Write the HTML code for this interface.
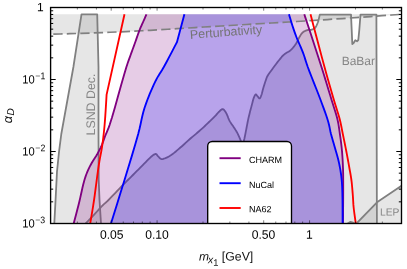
<!DOCTYPE html>
<html><head><meta charset="utf-8">
<style>
html,body{margin:0;padding:0;background:#fff;}
body{width:407px;height:269px;overflow:hidden;font-family:"Liberation Sans",sans-serif;}
svg{display:block;will-change:transform;}
text{font-family:"Liberation Sans",sans-serif;text-rendering:geometricPrecision;}
</style></head><body>
<svg width="407" height="269" viewBox="0 0 407 269">
<defs><clipPath id="cp"><rect x="50.5" y="7.5" width="351" height="216"/></clipPath></defs>
<rect width="407" height="269" fill="#fff"/>
<g clip-path="url(#cp)" stroke-linejoin="round" stroke-linecap="butt" fill="none">
<path d="M50.50,14.30 L401.50,14.30 L401.50,14.30 L398.84,14.49 L391.83,15.00 L381.97,15.72 L370.72,16.53 L359.57,17.33 L350.00,18.00 L342.35,18.53 L334.86,19.04 L327.46,19.54 L320.06,20.03 L312.60,20.51 L305.00,21.00 L296.83,21.51 L288.55,22.01 L280.20,22.51 L271.80,23.01 L263.39,23.50 L255.00,24.00 L246.55,24.50 L238.09,24.99 L229.62,25.49 L221.13,25.99 L212.59,26.49 L204.00,27.00 L195.05,27.55 L186.00,28.12 L176.90,28.69 L167.82,29.26 L158.83,29.80 L150.00,30.30 L141.86,30.74 L133.86,31.15 L125.93,31.54 L118.02,31.91 L110.07,32.26 L102.00,32.60 L92.33,32.96 L81.15,33.34 L69.93,33.71 L60.11,34.01 L53.14,34.22 L50.50,34.30 Z" fill="rgb(128,128,128)" fill-opacity="0.2" stroke="none"/>
<path d="M54.30,223.50 L55.50,201.00 L57.00,171.50 L59.00,152.00 L61.30,134.00 L73.40,67.00 L81.50,14.30 L97.20,14.30 L98.50,67.00 L98.50,134.00 L98.70,180.00 L99.50,200.00 L101.00,223.50 Z" fill="rgb(128,128,128)" fill-opacity="0.2" stroke="none"/>
<path d="M54.30,223.50 L55.50,201.00 L57.00,171.50 L59.00,152.00 L61.30,134.00 L73.40,67.00 L81.50,14.30 L97.20,14.30 L98.50,67.00 L98.50,134.00 L98.70,180.00 L99.50,200.00 L101.00,223.50" stroke="#808080" stroke-width="1.8" />
<path d="M85.50,223.50 L85.96,223.03 L87.18,221.81 L88.89,220.07 L90.84,218.09 L92.76,216.12 L94.40,214.40 L95.72,212.97 L97.01,211.51 L98.28,210.06 L99.54,208.64 L100.77,207.28 L102.00,206.00 L103.00,205.03 L103.95,204.17 L104.88,203.34 L105.85,202.50 L106.87,201.57 L108.00,200.50 L110.07,198.42 L112.43,195.98 L114.94,193.32 L117.49,190.62 L119.95,188.03 L122.20,185.70 L123.78,184.09 L125.27,182.60 L126.71,181.17 L128.13,179.75 L129.58,178.32 L131.10,176.80 L132.91,174.99 L134.79,173.11 L136.70,171.20 L138.61,169.29 L140.49,167.41 L142.30,165.60 L143.90,163.98 L145.52,162.32 L147.11,160.68 L148.62,159.15 L150.00,157.80 L151.20,156.70 L151.75,156.23 L152.24,155.81 L152.70,155.44 L153.13,155.12 L153.56,154.84 L154.00,154.60 L154.34,154.42 L154.69,154.25 L155.03,154.11 L155.36,154.00 L155.69,153.96 L156.00,154.00 L156.35,154.18 L156.68,154.49 L156.99,154.89 L157.30,155.34 L157.64,155.79 L158.00,156.20 L158.48,156.70 L158.98,157.25 L159.51,157.81 L160.06,158.32 L160.62,158.74 L161.20,159.00 L161.71,159.10 L162.23,159.09 L162.77,159.02 L163.32,158.88 L163.89,158.70 L164.50,158.50 L165.49,158.13 L166.56,157.66 L167.69,157.09 L168.85,156.45 L170.03,155.74 L171.20,155.00 L172.63,154.00 L174.08,152.89 L175.55,151.69 L177.05,150.42 L178.56,149.12 L180.10,147.80 L181.95,146.20 L183.89,144.47 L185.86,142.68 L187.80,140.93 L189.63,139.27 L191.30,137.80 L192.35,136.90 L193.31,136.09 L194.23,135.33 L195.13,134.58 L196.04,133.82 L197.00,133.00 L198.14,132.01 L199.33,130.97 L200.54,129.91 L201.74,128.85 L202.90,127.80 L204.00,126.80 L204.88,125.98 L205.72,125.18 L206.53,124.40 L207.34,123.62 L208.15,122.82 L209.00,122.00 L209.98,121.06 L211.00,120.10 L212.03,119.11 L213.06,118.13 L214.05,117.15 L215.00,116.20 L215.80,115.34 L216.57,114.46 L217.32,113.59 L218.05,112.75 L218.77,111.98 L219.50,111.30 L220.06,110.79 L220.62,110.27 L221.18,109.79 L221.73,109.39 L222.27,109.15 L222.80,109.10 L223.38,109.33 L223.95,109.80 L224.51,110.46 L225.06,111.25 L225.59,112.08 L226.10,112.90 L226.71,114.02 L227.27,115.29 L227.79,116.65 L228.32,118.05 L228.88,119.42 L229.50,120.70 L230.18,121.87 L230.91,123.02 L231.67,124.14 L232.44,125.24 L233.19,126.33 L233.90,127.40 L234.50,128.33 L235.09,129.23 L235.66,130.12 L236.22,131.01 L236.76,131.93 L237.30,132.90 L237.90,134.07 L238.48,135.31 L239.06,136.59 L239.61,137.87 L240.13,139.12 L240.60,140.30 L240.95,141.33 L241.27,142.48 L241.56,143.60 L241.84,144.57 L242.12,145.25 L242.40,145.50 L242.68,145.25 L242.95,144.60 L243.21,143.67 L243.48,142.56 L243.74,141.40 L244.00,140.30 L244.37,138.75 L244.74,137.03 L245.11,135.21 L245.47,133.33 L245.84,131.44 L246.20,129.60 L246.56,127.76 L246.91,125.92 L247.25,124.07 L247.60,122.21 L247.98,120.32 L248.40,118.40 L248.91,116.20 L249.48,113.91 L250.07,111.59 L250.67,109.31 L251.26,107.12 L251.80,105.10 L252.18,103.63 L252.53,102.19 L252.88,100.82 L253.23,99.52 L253.60,98.34 L254.00,97.30 L254.28,96.66 L254.57,96.01 L254.87,95.40 L255.18,94.90 L255.49,94.55 L255.80,94.40 L256.06,94.47 L256.32,94.68 L256.58,95.00 L256.84,95.38 L257.12,95.76 L257.40,96.10 L257.75,96.52 L258.13,97.03 L258.51,97.55 L258.89,98.00 L259.26,98.31 L259.60,98.40 L259.94,98.20 L260.27,97.76 L260.57,97.15 L260.86,96.44 L261.14,95.70 L261.40,95.00 L261.69,94.18 L261.94,93.31 L262.17,92.39 L262.40,91.45 L262.63,90.48 L262.90,89.50 L263.25,88.30 L263.61,87.05 L264.00,85.76 L264.39,84.47 L264.80,83.21 L265.20,82.00 L265.55,80.95 L265.89,79.93 L266.24,78.93 L266.61,77.95 L267.02,76.97 L267.50,76.00 L268.09,74.98 L268.74,73.99 L269.44,73.01 L270.18,72.03 L270.94,71.03 L271.70,70.00 L272.57,68.78 L273.47,67.52 L274.39,66.24 L275.34,64.96 L276.31,63.67 L277.30,62.40 L278.36,61.06 L279.43,59.68 L280.54,58.31 L281.67,56.98 L282.82,55.73 L284.00,54.60 L285.09,53.74 L286.23,53.00 L287.39,52.33 L288.54,51.66 L289.65,50.94 L290.70,50.10 L291.72,49.11 L292.71,48.04 L293.66,46.91 L294.56,45.74 L295.41,44.57 L296.20,43.40 L296.86,42.30 L297.44,41.17 L297.97,40.03 L298.49,38.90 L299.03,37.82 L299.60,36.80 L300.11,35.96 L300.62,35.13 L301.14,34.34 L301.68,33.59 L302.26,32.91 L302.90,32.30 L303.57,31.80 L304.29,31.35 L305.05,30.97 L305.84,30.63 L306.62,30.34 L307.40,30.10 L308.13,29.95 L308.88,29.88 L309.64,29.85 L310.38,29.82 L311.11,29.75 L311.80,29.60 L312.42,29.40 L313.02,29.19 L313.60,28.94 L314.16,28.64 L314.70,28.26 L315.20,27.80 L315.90,26.81 L316.60,25.43 L317.25,23.92 L317.80,22.52 L318.16,21.50 L318.30,21.10 L319.80,14.60 L351.00,14.60 L351.70,30.00 L352.30,44.00 L353.60,43.00 L355.30,40.30 L357.00,41.30 L358.30,40.00 L359.30,30.00 L360.50,14.60 L376.40,14.60 L376.90,223.50 Z" fill="rgb(128,128,128)" fill-opacity="0.2" stroke="none"/>
<path d="M85.50,223.50 L85.96,223.03 L87.18,221.81 L88.89,220.07 L90.84,218.09 L92.76,216.12 L94.40,214.40 L95.72,212.97 L97.01,211.51 L98.28,210.06 L99.54,208.64 L100.77,207.28 L102.00,206.00 L103.00,205.03 L103.95,204.17 L104.88,203.34 L105.85,202.50 L106.87,201.57 L108.00,200.50 L110.07,198.42 L112.43,195.98 L114.94,193.32 L117.49,190.62 L119.95,188.03 L122.20,185.70 L123.78,184.09 L125.27,182.60 L126.71,181.17 L128.13,179.75 L129.58,178.32 L131.10,176.80 L132.91,174.99 L134.79,173.11 L136.70,171.20 L138.61,169.29 L140.49,167.41 L142.30,165.60 L143.90,163.98 L145.52,162.32 L147.11,160.68 L148.62,159.15 L150.00,157.80 L151.20,156.70 L151.75,156.23 L152.24,155.81 L152.70,155.44 L153.13,155.12 L153.56,154.84 L154.00,154.60 L154.34,154.42 L154.69,154.25 L155.03,154.11 L155.36,154.00 L155.69,153.96 L156.00,154.00 L156.35,154.18 L156.68,154.49 L156.99,154.89 L157.30,155.34 L157.64,155.79 L158.00,156.20 L158.48,156.70 L158.98,157.25 L159.51,157.81 L160.06,158.32 L160.62,158.74 L161.20,159.00 L161.71,159.10 L162.23,159.09 L162.77,159.02 L163.32,158.88 L163.89,158.70 L164.50,158.50 L165.49,158.13 L166.56,157.66 L167.69,157.09 L168.85,156.45 L170.03,155.74 L171.20,155.00 L172.63,154.00 L174.08,152.89 L175.55,151.69 L177.05,150.42 L178.56,149.12 L180.10,147.80 L181.95,146.20 L183.89,144.47 L185.86,142.68 L187.80,140.93 L189.63,139.27 L191.30,137.80 L192.35,136.90 L193.31,136.09 L194.23,135.33 L195.13,134.58 L196.04,133.82 L197.00,133.00 L198.14,132.01 L199.33,130.97 L200.54,129.91 L201.74,128.85 L202.90,127.80 L204.00,126.80 L204.88,125.98 L205.72,125.18 L206.53,124.40 L207.34,123.62 L208.15,122.82 L209.00,122.00 L209.98,121.06 L211.00,120.10 L212.03,119.11 L213.06,118.13 L214.05,117.15 L215.00,116.20 L215.80,115.34 L216.57,114.46 L217.32,113.59 L218.05,112.75 L218.77,111.98 L219.50,111.30 L220.06,110.79 L220.62,110.27 L221.18,109.79 L221.73,109.39 L222.27,109.15 L222.80,109.10 L223.38,109.33 L223.95,109.80 L224.51,110.46 L225.06,111.25 L225.59,112.08 L226.10,112.90 L226.71,114.02 L227.27,115.29 L227.79,116.65 L228.32,118.05 L228.88,119.42 L229.50,120.70 L230.18,121.87 L230.91,123.02 L231.67,124.14 L232.44,125.24 L233.19,126.33 L233.90,127.40 L234.50,128.33 L235.09,129.23 L235.66,130.12 L236.22,131.01 L236.76,131.93 L237.30,132.90 L237.90,134.07 L238.48,135.31 L239.06,136.59 L239.61,137.87 L240.13,139.12 L240.60,140.30 L240.95,141.33 L241.27,142.48 L241.56,143.60 L241.84,144.57 L242.12,145.25 L242.40,145.50 L242.68,145.25 L242.95,144.60 L243.21,143.67 L243.48,142.56 L243.74,141.40 L244.00,140.30 L244.37,138.75 L244.74,137.03 L245.11,135.21 L245.47,133.33 L245.84,131.44 L246.20,129.60 L246.56,127.76 L246.91,125.92 L247.25,124.07 L247.60,122.21 L247.98,120.32 L248.40,118.40 L248.91,116.20 L249.48,113.91 L250.07,111.59 L250.67,109.31 L251.26,107.12 L251.80,105.10 L252.18,103.63 L252.53,102.19 L252.88,100.82 L253.23,99.52 L253.60,98.34 L254.00,97.30 L254.28,96.66 L254.57,96.01 L254.87,95.40 L255.18,94.90 L255.49,94.55 L255.80,94.40 L256.06,94.47 L256.32,94.68 L256.58,95.00 L256.84,95.38 L257.12,95.76 L257.40,96.10 L257.75,96.52 L258.13,97.03 L258.51,97.55 L258.89,98.00 L259.26,98.31 L259.60,98.40 L259.94,98.20 L260.27,97.76 L260.57,97.15 L260.86,96.44 L261.14,95.70 L261.40,95.00 L261.69,94.18 L261.94,93.31 L262.17,92.39 L262.40,91.45 L262.63,90.48 L262.90,89.50 L263.25,88.30 L263.61,87.05 L264.00,85.76 L264.39,84.47 L264.80,83.21 L265.20,82.00 L265.55,80.95 L265.89,79.93 L266.24,78.93 L266.61,77.95 L267.02,76.97 L267.50,76.00 L268.09,74.98 L268.74,73.99 L269.44,73.01 L270.18,72.03 L270.94,71.03 L271.70,70.00 L272.57,68.78 L273.47,67.52 L274.39,66.24 L275.34,64.96 L276.31,63.67 L277.30,62.40 L278.36,61.06 L279.43,59.68 L280.54,58.31 L281.67,56.98 L282.82,55.73 L284.00,54.60 L285.09,53.74 L286.23,53.00 L287.39,52.33 L288.54,51.66 L289.65,50.94 L290.70,50.10 L291.72,49.11 L292.71,48.04 L293.66,46.91 L294.56,45.74 L295.41,44.57 L296.20,43.40 L296.86,42.30 L297.44,41.17 L297.97,40.03 L298.49,38.90 L299.03,37.82 L299.60,36.80 L300.11,35.96 L300.62,35.13 L301.14,34.34 L301.68,33.59 L302.26,32.91 L302.90,32.30 L303.57,31.80 L304.29,31.35 L305.05,30.97 L305.84,30.63 L306.62,30.34 L307.40,30.10 L308.13,29.95 L308.88,29.88 L309.64,29.85 L310.38,29.82 L311.11,29.75 L311.80,29.60 L312.42,29.40 L313.02,29.19 L313.60,28.94 L314.16,28.64 L314.70,28.26 L315.20,27.80 L315.90,26.81 L316.60,25.43 L317.25,23.92 L317.80,22.52 L318.16,21.50 L318.30,21.10 L319.80,14.60 L351.00,14.60 L351.70,30.00 L352.30,44.00 L353.60,43.00 L355.30,40.30 L357.00,41.30 L358.30,40.00 L359.30,30.00 L360.50,14.60 L376.40,14.60 L376.90,223.50" stroke="#808080" stroke-width="1.8" />
<path d="M346.50,224.00 L348.50,223.00 L350.50,221.80 L353.00,222.60 L354.80,223.60 L356.50,223.50 L377.00,202.30 L401.50,185.80 L401.50,223.50 Z" fill="rgb(128,128,128)" fill-opacity="0.2" stroke="none"/>
<path d="M346.50,224.00 L348.50,223.00 L350.50,221.80 L353.00,222.60 L354.80,223.60 L356.50,223.50 L377.00,202.30 L401.50,185.80" stroke="#808080" stroke-width="1.8" />
<path d="M146.50,14.30 L146.34,14.66 L145.91,15.61 L145.31,16.96 L144.62,18.52 L143.92,20.10 L143.30,21.50 L142.70,22.85 L142.09,24.20 L141.48,25.56 L140.86,26.97 L140.23,28.44 L139.60,30.00 L138.78,32.14 L137.94,34.46 L137.09,36.88 L136.24,39.33 L135.41,41.72 L134.60,44.00 L133.91,45.90 L133.24,47.75 L132.58,49.55 L131.92,51.35 L131.26,53.15 L130.60,55.00 L129.93,56.86 L129.28,58.62 L128.64,60.39 L127.96,62.30 L127.23,64.46 L126.40,67.00 L124.10,74.67 L121.23,84.79 L118.07,96.12 L114.90,107.42 L111.98,117.46 L109.60,125.00 L108.74,127.40 L107.94,129.43 L107.20,131.21 L106.50,132.85 L105.80,134.47 L105.10,136.20 L104.45,137.91 L103.83,139.63 L103.21,141.32 L102.60,142.99 L101.97,144.62 L101.30,146.20 L100.68,147.56 L100.04,148.87 L99.40,150.15 L98.73,151.42 L98.03,152.69 L97.30,154.00 L96.43,155.47 L95.49,156.96 L94.51,158.46 L93.53,159.97 L92.59,161.48 L91.70,163.00 L90.90,164.46 L90.12,165.92 L89.37,167.39 L88.65,168.87 L87.96,170.37 L87.30,171.90 L86.66,173.48 L86.08,175.05 L85.52,176.64 L84.98,178.28 L84.44,180.03 L83.90,181.90 L83.16,184.70 L82.45,187.74 L81.74,190.96 L81.02,194.29 L80.28,197.66 L79.50,201.00 L78.46,205.17 L77.22,210.03 L75.94,214.95 L74.81,219.27 L74.01,222.33 L73.70,223.50 L343.00,223.50 L343.02,221.28 L343.06,215.53 L343.11,207.59 L343.17,198.79 L343.20,190.48 L343.20,184.00 L343.19,180.93 L343.18,178.17 L343.17,175.61 L343.14,173.14 L343.08,170.64 L343.00,168.00 L342.88,165.05 L342.74,162.04 L342.57,159.00 L342.38,155.96 L342.15,152.95 L341.90,150.00 L341.63,147.27 L341.32,144.56 L340.99,141.89 L340.64,139.24 L340.27,136.61 L339.90,134.00 L339.56,131.56 L339.22,129.18 L338.88,126.82 L338.50,124.45 L338.04,122.02 L337.50,119.50 L336.73,116.46 L335.84,113.38 L334.86,110.23 L333.81,106.97 L332.72,103.57 L331.60,100.00 L330.11,95.09 L328.55,89.92 L326.91,84.51 L325.19,78.88 L323.39,73.04 L321.50,67.00 L318.52,57.70 L314.86,46.43 L311.06,34.82 L307.67,24.51 L305.23,17.13 L304.30,14.30 Z" fill="rgb(128,0,128)" fill-opacity="0.2" stroke="none"/>
<path d="M184.40,14.30 L177.00,42.00 L176.30,43.36 L174.45,46.92 L171.88,51.86 L168.97,57.39 L166.15,62.70 L163.80,67.00 L162.36,69.47 L160.99,71.69 L159.66,73.78 L158.35,75.90 L157.04,78.16 L155.70,80.70 L153.79,84.67 L151.81,89.06 L149.82,93.73 L147.89,98.53 L146.10,103.33 L144.50,108.00 L143.26,112.20 L142.26,116.23 L141.38,120.26 L140.49,124.46 L139.47,128.98 L138.20,134.00 L135.43,143.80 L132.00,155.37 L128.23,167.81 L124.43,180.17 L120.91,191.54 L118.00,201.00 L116.47,205.97 L114.89,211.06 L113.41,215.81 L112.17,219.78 L111.32,222.49 L111.00,223.50 L342.60,223.50 L342.60,222.25 L342.60,218.98 L342.60,214.41 L342.58,209.24 L342.55,204.20 L342.50,200.00 L342.45,197.11 L342.39,194.30 L342.33,191.57 L342.24,188.94 L342.14,186.41 L342.00,184.00 L341.88,182.21 L341.74,180.53 L341.59,178.92 L341.43,177.32 L341.23,175.70 L341.00,174.00 L340.70,172.00 L340.37,169.94 L340.00,167.86 L339.60,165.74 L339.17,163.62 L338.70,161.50 L338.16,159.28 L337.57,157.04 L336.95,154.79 L336.30,152.53 L335.64,150.27 L335.00,148.00 L334.33,145.67 L333.64,143.31 L332.95,140.95 L332.26,138.60 L331.61,136.28 L331.00,134.00 L330.52,131.99 L330.12,130.06 L329.74,128.16 L329.35,126.22 L328.88,124.18 L328.30,122.00 L327.31,118.75 L326.16,115.30 L324.89,111.66 L323.52,107.89 L322.08,103.99 L320.60,100.00 L318.60,94.72 L316.36,89.00 L314.02,83.09 L311.72,77.27 L309.60,71.82 L307.80,67.00 L306.84,64.24 L306.01,61.72 L305.26,59.36 L304.53,57.08 L303.76,54.79 L302.90,52.40 L301.87,49.79 L300.75,47.15 L299.59,44.50 L298.44,41.86 L297.32,39.26 L296.30,36.70 L295.44,34.40 L294.61,32.11 L293.83,29.84 L293.08,27.62 L292.37,25.46 L291.70,23.40 L291.13,21.58 L290.53,19.57 L289.95,17.61 L289.46,15.92 L289.13,14.74 L289.00,14.30 Z" fill="rgb(0,0,255)" fill-opacity="0.2" stroke="none"/>
<path d="M50.50,34.30 L53.14,34.22 L60.11,34.01 L69.93,33.71 L81.15,33.34 L92.33,32.96 L102.00,32.60 L110.07,32.26 L118.02,31.91 L125.93,31.54 L133.86,31.15 L141.86,30.74 L150.00,30.30 L158.83,29.80 L167.82,29.26 L176.90,28.69 L186.00,28.12 L195.05,27.55 L204.00,27.00 L212.59,26.49 L221.13,25.99 L229.62,25.49 L238.09,24.99 L246.55,24.50 L255.00,24.00 L263.39,23.50 L271.80,23.01 L280.20,22.51 L288.55,22.01 L296.83,21.51 L305.00,21.00 L312.60,20.51 L320.06,20.03 L327.46,19.54 L334.86,19.04 L342.35,18.53 L350.00,18.00 L359.57,17.33 L370.72,16.53 L381.97,15.72 L391.83,15.00 L398.84,14.49 L401.50,14.30" stroke="#808080" stroke-width="1.7" stroke-dasharray="9.3,4.2" stroke-dashoffset="10.7"/>
<path d="M146.50,14.30 L146.34,14.66 L145.91,15.61 L145.31,16.96 L144.62,18.52 L143.92,20.10 L143.30,21.50 L142.70,22.85 L142.09,24.20 L141.48,25.56 L140.86,26.97 L140.23,28.44 L139.60,30.00 L138.78,32.14 L137.94,34.46 L137.09,36.88 L136.24,39.33 L135.41,41.72 L134.60,44.00 L133.91,45.90 L133.24,47.75 L132.58,49.55 L131.92,51.35 L131.26,53.15 L130.60,55.00 L129.93,56.86 L129.28,58.62 L128.64,60.39 L127.96,62.30 L127.23,64.46 L126.40,67.00 L124.10,74.67 L121.23,84.79 L118.07,96.12 L114.90,107.42 L111.98,117.46 L109.60,125.00 L108.74,127.40 L107.94,129.43 L107.20,131.21 L106.50,132.85 L105.80,134.47 L105.10,136.20 L104.45,137.91 L103.83,139.63 L103.21,141.32 L102.60,142.99 L101.97,144.62 L101.30,146.20 L100.68,147.56 L100.04,148.87 L99.40,150.15 L98.73,151.42 L98.03,152.69 L97.30,154.00 L96.43,155.47 L95.49,156.96 L94.51,158.46 L93.53,159.97 L92.59,161.48 L91.70,163.00 L90.90,164.46 L90.12,165.92 L89.37,167.39 L88.65,168.87 L87.96,170.37 L87.30,171.90 L86.66,173.48 L86.08,175.05 L85.52,176.64 L84.98,178.28 L84.44,180.03 L83.90,181.90 L83.16,184.70 L82.45,187.74 L81.74,190.96 L81.02,194.29 L80.28,197.66 L79.50,201.00 L78.46,205.17 L77.22,210.03 L75.94,214.95 L74.81,219.27 L74.01,222.33 L73.70,223.50" stroke="rgb(128,0,128)" stroke-width="1.85" />
<path d="M304.30,14.30 L305.23,17.13 L307.67,24.51 L311.06,34.82 L314.86,46.43 L318.52,57.70 L321.50,67.00 L323.39,73.04 L325.19,78.88 L326.91,84.51 L328.55,89.92 L330.11,95.09 L331.60,100.00 L332.72,103.57 L333.81,106.97 L334.86,110.23 L335.84,113.38 L336.73,116.46 L337.50,119.50 L338.04,122.02 L338.50,124.45 L338.88,126.82 L339.22,129.18 L339.56,131.56 L339.90,134.00 L340.27,136.61 L340.64,139.24 L340.99,141.89 L341.32,144.56 L341.63,147.27 L341.90,150.00 L342.15,152.95 L342.38,155.96 L342.57,159.00 L342.74,162.04 L342.88,165.05 L343.00,168.00 L343.08,170.64 L343.14,173.14 L343.17,175.61 L343.18,178.17 L343.19,180.93 L343.20,184.00 L343.20,190.48 L343.17,198.79 L343.11,207.59 L343.06,215.53 L343.02,221.28 L343.00,223.50" stroke="rgb(128,0,128)" stroke-width="1.85" />
<path d="M184.40,14.30 L177.00,42.00 L176.30,43.36 L174.45,46.92 L171.88,51.86 L168.97,57.39 L166.15,62.70 L163.80,67.00 L162.36,69.47 L160.99,71.69 L159.66,73.78 L158.35,75.90 L157.04,78.16 L155.70,80.70 L153.79,84.67 L151.81,89.06 L149.82,93.73 L147.89,98.53 L146.10,103.33 L144.50,108.00 L143.26,112.20 L142.26,116.23 L141.38,120.26 L140.49,124.46 L139.47,128.98 L138.20,134.00 L135.43,143.80 L132.00,155.37 L128.23,167.81 L124.43,180.17 L120.91,191.54 L118.00,201.00 L116.47,205.97 L114.89,211.06 L113.41,215.81 L112.17,219.78 L111.32,222.49 L111.00,223.50" stroke="rgb(0,0,255)" stroke-width="1.85" />
<path d="M289.00,14.30 L289.13,14.74 L289.46,15.92 L289.95,17.61 L290.53,19.57 L291.13,21.58 L291.70,23.40 L292.37,25.46 L293.08,27.62 L293.83,29.84 L294.61,32.11 L295.44,34.40 L296.30,36.70 L297.32,39.26 L298.44,41.86 L299.59,44.50 L300.75,47.15 L301.87,49.79 L302.90,52.40 L303.76,54.79 L304.53,57.08 L305.26,59.36 L306.01,61.72 L306.84,64.24 L307.80,67.00 L309.60,71.82 L311.72,77.27 L314.02,83.09 L316.36,89.00 L318.60,94.72 L320.60,100.00 L322.08,103.99 L323.52,107.89 L324.89,111.66 L326.16,115.30 L327.31,118.75 L328.30,122.00 L328.88,124.18 L329.35,126.22 L329.74,128.16 L330.12,130.06 L330.52,131.99 L331.00,134.00 L331.61,136.28 L332.26,138.60 L332.95,140.95 L333.64,143.31 L334.33,145.67 L335.00,148.00 L335.64,150.27 L336.30,152.53 L336.95,154.79 L337.57,157.04 L338.16,159.28 L338.70,161.50 L339.17,163.62 L339.60,165.74 L340.00,167.86 L340.37,169.94 L340.70,172.00 L341.00,174.00 L341.23,175.70 L341.43,177.32 L341.59,178.92 L341.74,180.53 L341.88,182.21 L342.00,184.00 L342.14,186.41 L342.24,188.94 L342.33,191.57 L342.39,194.30 L342.45,197.11 L342.50,200.00 L342.55,204.20 L342.58,209.24 L342.60,214.41 L342.60,218.98 L342.60,222.25 L342.60,223.50" stroke="rgb(0,0,255)" stroke-width="1.85" />
<path d="M124.50,14.30 L106.60,94.60 L106.52,95.98 L106.31,99.58 L106.01,104.60 L105.66,110.21 L105.31,115.61 L105.00,120.00 L104.79,122.58 L104.59,125.00 L104.39,127.29 L104.17,129.53 L103.94,131.75 L103.70,134.00 L103.45,136.17 L103.20,138.29 L102.94,140.40 L102.65,142.53 L102.34,144.72 L102.00,147.00 L101.54,149.76 L101.04,152.56 L100.50,155.43 L99.93,158.43 L99.36,161.60 L98.80,165.00 L98.01,170.38 L97.19,176.39 L96.36,182.75 L95.53,189.17 L94.71,195.35 L93.90,201.00 L93.19,205.58 L92.38,210.56 L91.58,215.39 L90.88,219.53 L90.39,222.42 L90.20,223.50" stroke="rgb(255,0,0)" stroke-width="1.85" />
<path d="M310.50,14.30 L311.24,17.11 L313.16,24.46 L315.87,34.74 L318.94,46.33 L321.95,57.63 L324.50,67.00 L326.28,73.39 L328.04,79.65 L329.77,85.71 L331.43,91.50 L333.02,96.95 L334.50,102.00 L335.49,105.28 L336.45,108.34 L337.37,111.22 L338.24,114.00 L339.05,116.74 L339.80,119.50 L340.39,121.97 L340.92,124.37 L341.39,126.75 L341.85,129.12 L342.31,131.53 L342.80,134.00 L343.37,136.79 L343.97,139.65 L344.56,142.55 L345.16,145.46 L345.74,148.36 L346.30,151.20 L346.81,153.89 L347.32,156.57 L347.81,159.24 L348.29,161.87 L348.75,164.46 L349.20,167.00 L349.60,169.23 L350.00,171.39 L350.38,173.52 L350.75,175.64 L351.09,177.79 L351.40,180.00 L351.70,182.45 L351.96,184.98 L352.19,187.53 L352.41,190.08 L352.61,192.58 L352.80,195.00 L352.95,197.06 L353.06,199.03 L353.17,200.97 L353.28,202.91 L353.41,204.91 L353.60,207.00 L353.94,209.98 L354.40,213.53 L354.89,217.15 L355.34,220.35 L355.67,222.63 L355.80,223.50" stroke="rgb(255,0,0)" stroke-width="1.85" />
</g>
<!-- legend -->
<rect x="207.7" y="141.5" width="83.8" height="90" rx="4.5" ry="4.5" fill="#fff" stroke="#000" stroke-width="1.35" clip-path="url(#cp)"/>
<g stroke-width="1.9">
<line x1="219.5" y1="158.2" x2="240.7" y2="158.2" stroke="rgb(128,0,128)"/>
<line x1="219.5" y1="183.2" x2="240.7" y2="183.2" stroke="rgb(0,0,255)"/>
<line x1="219.5" y1="208" x2="240.7" y2="208" stroke="rgb(255,0,0)"/>
</g>
<g font-size="9.05" fill="#000" transform="rotate(0.03 203 134)">
<text x="249" y="163">CHARM</text>
<text x="249" y="188">NuCal</text>
<text x="249" y="212.3">NA62</text>
</g>
<g fill="#868686">
<text fill="#747474" font-size="12.4" transform="translate(190.3,38.9) rotate(-4.3)">Perturbativity</text>
<text font-size="12" x="341.6" y="65" transform="rotate(0.03 203 134)">BaBar</text>
<text font-size="10.3" x="380" y="215.5" transform="rotate(0.03 203 134)">LEP</text>
<text font-size="12.4" transform="translate(95,135.5) rotate(-90)">LSND Dec.</text>
</g>
<rect x="50.6" y="7.5" width="350.9" height="216" fill="none" stroke="#000" stroke-width="1.35"/>
<g stroke="#000" stroke-width="1">
<line x1="111.19" y1="223.50" x2="111.19" y2="220.30" stroke-width="0.5"/>
<line x1="111.19" y1="7.50" x2="111.19" y2="10.70" stroke-width="0.5"/>
<line x1="157.09" y1="223.50" x2="157.09" y2="220.30" stroke-width="0.5"/>
<line x1="157.09" y1="7.50" x2="157.09" y2="10.70" stroke-width="0.5"/>
<line x1="263.69" y1="223.50" x2="263.69" y2="220.30" stroke-width="0.5"/>
<line x1="263.69" y1="7.50" x2="263.69" y2="10.70" stroke-width="0.5"/>
<line x1="309.59" y1="223.50" x2="309.59" y2="220.30" stroke-width="0.5"/>
<line x1="309.59" y1="7.50" x2="309.59" y2="10.70" stroke-width="0.5"/>
<line x1="77.35" y1="223.50" x2="77.35" y2="221.50" stroke-width="0.5"/>
<line x1="77.35" y1="7.50" x2="77.35" y2="9.50" stroke-width="0.5"/>
<line x1="96.41" y1="223.50" x2="96.41" y2="221.50" stroke-width="0.5"/>
<line x1="96.41" y1="7.50" x2="96.41" y2="9.50" stroke-width="0.5"/>
<line x1="123.26" y1="223.50" x2="123.26" y2="221.50" stroke-width="0.5"/>
<line x1="123.26" y1="7.50" x2="123.26" y2="9.50" stroke-width="0.5"/>
<line x1="133.47" y1="223.50" x2="133.47" y2="221.50" stroke-width="0.5"/>
<line x1="133.47" y1="7.50" x2="133.47" y2="9.50" stroke-width="0.5"/>
<line x1="142.31" y1="223.50" x2="142.31" y2="221.50" stroke-width="0.5"/>
<line x1="142.31" y1="7.50" x2="142.31" y2="9.50" stroke-width="0.5"/>
<line x1="150.11" y1="223.50" x2="150.11" y2="221.50" stroke-width="0.5"/>
<line x1="150.11" y1="7.50" x2="150.11" y2="9.50" stroke-width="0.5"/>
<line x1="203.00" y1="223.50" x2="203.00" y2="221.50" stroke-width="0.5"/>
<line x1="203.00" y1="7.50" x2="203.00" y2="9.50" stroke-width="0.5"/>
<line x1="229.85" y1="223.50" x2="229.85" y2="221.50" stroke-width="0.5"/>
<line x1="229.85" y1="7.50" x2="229.85" y2="9.50" stroke-width="0.5"/>
<line x1="248.91" y1="223.50" x2="248.91" y2="221.50" stroke-width="0.5"/>
<line x1="248.91" y1="7.50" x2="248.91" y2="9.50" stroke-width="0.5"/>
<line x1="275.76" y1="223.50" x2="275.76" y2="221.50" stroke-width="0.5"/>
<line x1="275.76" y1="7.50" x2="275.76" y2="9.50" stroke-width="0.5"/>
<line x1="285.97" y1="223.50" x2="285.97" y2="221.50" stroke-width="0.5"/>
<line x1="285.97" y1="7.50" x2="285.97" y2="9.50" stroke-width="0.5"/>
<line x1="294.81" y1="223.50" x2="294.81" y2="221.50" stroke-width="0.5"/>
<line x1="294.81" y1="7.50" x2="294.81" y2="9.50" stroke-width="0.5"/>
<line x1="302.61" y1="223.50" x2="302.61" y2="221.50" stroke-width="0.5"/>
<line x1="302.61" y1="7.50" x2="302.61" y2="9.50" stroke-width="0.5"/>
<line x1="355.50" y1="223.50" x2="355.50" y2="221.50" stroke-width="0.5"/>
<line x1="355.50" y1="7.50" x2="355.50" y2="9.50" stroke-width="0.5"/>
<line x1="382.35" y1="223.50" x2="382.35" y2="221.50" stroke-width="0.5"/>
<line x1="382.35" y1="7.50" x2="382.35" y2="9.50" stroke-width="0.5"/>
<line x1="50.50" y1="7.50" x2="55.70" y2="7.50" />
<line x1="401.50" y1="7.50" x2="396.30" y2="7.50" />
<line x1="50.50" y1="57.83" x2="53.20" y2="57.83" />
<line x1="401.50" y1="57.83" x2="398.80" y2="57.83" />
<line x1="50.50" y1="45.15" x2="53.20" y2="45.15" />
<line x1="401.50" y1="45.15" x2="398.80" y2="45.15" />
<line x1="50.50" y1="36.15" x2="53.20" y2="36.15" />
<line x1="401.50" y1="36.15" x2="398.80" y2="36.15" />
<line x1="50.50" y1="29.17" x2="53.20" y2="29.17" />
<line x1="401.50" y1="29.17" x2="398.80" y2="29.17" />
<line x1="50.50" y1="23.47" x2="53.20" y2="23.47" />
<line x1="401.50" y1="23.47" x2="398.80" y2="23.47" />
<line x1="50.50" y1="18.65" x2="53.20" y2="18.65" />
<line x1="401.50" y1="18.65" x2="398.80" y2="18.65" />
<line x1="50.50" y1="14.48" x2="53.20" y2="14.48" />
<line x1="401.50" y1="14.48" x2="398.80" y2="14.48" />
<line x1="50.50" y1="10.79" x2="53.20" y2="10.79" />
<line x1="401.50" y1="10.79" x2="398.80" y2="10.79" />
<line x1="50.50" y1="79.50" x2="55.70" y2="79.50" />
<line x1="401.50" y1="79.50" x2="396.30" y2="79.50" />
<line x1="50.50" y1="129.83" x2="53.20" y2="129.83" />
<line x1="401.50" y1="129.83" x2="398.80" y2="129.83" />
<line x1="50.50" y1="117.15" x2="53.20" y2="117.15" />
<line x1="401.50" y1="117.15" x2="398.80" y2="117.15" />
<line x1="50.50" y1="108.15" x2="53.20" y2="108.15" />
<line x1="401.50" y1="108.15" x2="398.80" y2="108.15" />
<line x1="50.50" y1="101.17" x2="53.20" y2="101.17" />
<line x1="401.50" y1="101.17" x2="398.80" y2="101.17" />
<line x1="50.50" y1="95.47" x2="53.20" y2="95.47" />
<line x1="401.50" y1="95.47" x2="398.80" y2="95.47" />
<line x1="50.50" y1="90.65" x2="53.20" y2="90.65" />
<line x1="401.50" y1="90.65" x2="398.80" y2="90.65" />
<line x1="50.50" y1="86.48" x2="53.20" y2="86.48" />
<line x1="401.50" y1="86.48" x2="398.80" y2="86.48" />
<line x1="50.50" y1="82.79" x2="53.20" y2="82.79" />
<line x1="401.50" y1="82.79" x2="398.80" y2="82.79" />
<line x1="50.50" y1="151.50" x2="55.70" y2="151.50" />
<line x1="401.50" y1="151.50" x2="396.30" y2="151.50" />
<line x1="50.50" y1="201.83" x2="53.20" y2="201.83" />
<line x1="401.50" y1="201.83" x2="398.80" y2="201.83" />
<line x1="50.50" y1="189.15" x2="53.20" y2="189.15" />
<line x1="401.50" y1="189.15" x2="398.80" y2="189.15" />
<line x1="50.50" y1="180.15" x2="53.20" y2="180.15" />
<line x1="401.50" y1="180.15" x2="398.80" y2="180.15" />
<line x1="50.50" y1="173.17" x2="53.20" y2="173.17" />
<line x1="401.50" y1="173.17" x2="398.80" y2="173.17" />
<line x1="50.50" y1="167.47" x2="53.20" y2="167.47" />
<line x1="401.50" y1="167.47" x2="398.80" y2="167.47" />
<line x1="50.50" y1="162.65" x2="53.20" y2="162.65" />
<line x1="401.50" y1="162.65" x2="398.80" y2="162.65" />
<line x1="50.50" y1="158.48" x2="53.20" y2="158.48" />
<line x1="401.50" y1="158.48" x2="398.80" y2="158.48" />
<line x1="50.50" y1="154.79" x2="53.20" y2="154.79" />
<line x1="401.50" y1="154.79" x2="398.80" y2="154.79" />
<line x1="50.50" y1="223.50" x2="55.70" y2="223.50" />
<line x1="401.50" y1="223.50" x2="396.30" y2="223.50" />
</g>
<g font-size="11.5" fill="#000" transform="rotate(0.03 203 134)">
<text font-size="12.3" text-anchor="middle" transform="translate(111.8,238.7) scale(0.985,1) rotate(0.03)">0.05</text>
<text font-size="12.3" text-anchor="middle" transform="translate(157.1,238.7) scale(0.985,1) rotate(0.03)">0.10</text>
<text font-size="12.3" text-anchor="middle" transform="translate(263.5,238.7) scale(0.985,1) rotate(0.03)">0.50</text>
<text font-size="12.3" text-anchor="middle" transform="translate(309.4,238.7) scale(0.985,1) rotate(0.03)">1</text>
<text x="36.9" y="11.4" font-size="12">1</text>
<text font-size="12" transform="translate(22.3,83.7) scale(0.93,1) rotate(0.03)">10</text><text font-size="9.8" transform="translate(35.3,79.3) scale(0.89,1) rotate(0.03)">−1</text>
<text font-size="12" transform="translate(22.3,155.7) scale(0.93,1) rotate(0.03)">10</text><text font-size="9.8" transform="translate(35.3,151.3) scale(0.89,1) rotate(0.03)">−2</text>
<text font-size="12" transform="translate(22.3,227.7) scale(0.93,1) rotate(0.03)">10</text><text font-size="9.8" transform="translate(35.3,223.3) scale(0.89,1) rotate(0.03)">−3</text>
</g>
<g fill="#111">
<text font-size="12" font-style="italic" x="199.2" y="260.5" transform="rotate(0.03 203 134)">m</text>
<text font-size="10.3" font-style="italic" x="208.1" y="263.2" transform="rotate(0.03 203 134)">x</text>
<text font-size="9.3" x="213.3" y="265.7" transform="rotate(0.03 203 134)">1</text>
<text font-size="12.3" x="221.9" y="260.4" transform="rotate(0.03 203 134)">[GeV]</text>
<text font-size="12.8" font-style="italic" transform="translate(11.7,123.2) rotate(-90)">α</text>
<text font-size="10" font-style="italic" transform="translate(13.9,115.6) rotate(-90)">D</text>
</g>
</svg>
</body></html>
